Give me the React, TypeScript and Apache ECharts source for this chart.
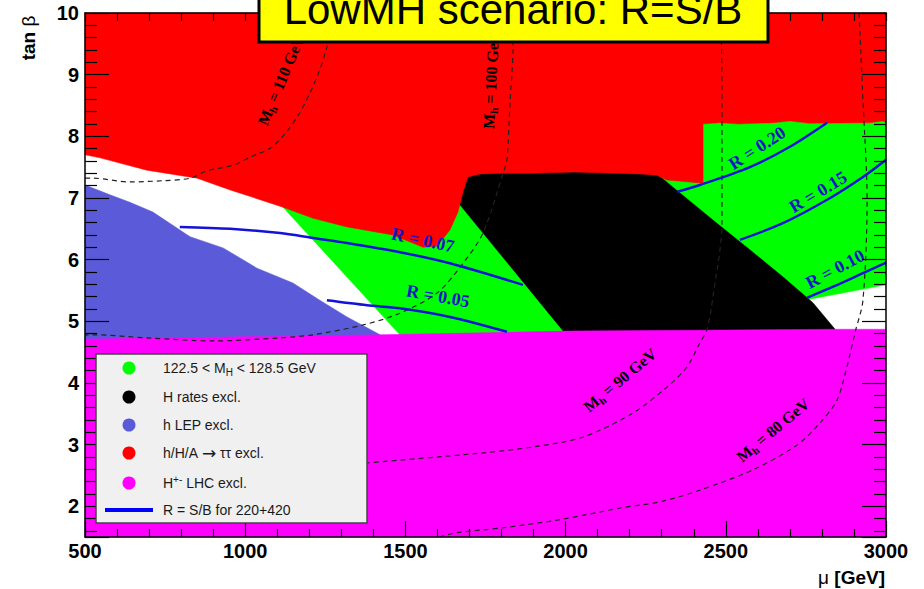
import React, { useEffect, useRef } from 'react';
import * as echarts from 'echarts';

// axis ranges
const xRange: [number, number] = [500, 3000];
const yRange: [number, number] = [1.5, 10];

// excluded / allowed regions (mu [GeV], tan beta)
const greenMid: [number, number][] = [[1118, 6.85], [1497, 4.70], [2120, 4.70], [2120, 7.36], [1118, 7.36]];
const greenRight: [number, number][] = [
  [2232, 7.36], [2429, 7.36], [2429, 8.20], [2480, 8.22], [2540, 8.20], [2650, 8.22], [2700, 8.25],
  [2760, 8.21], [2950, 8.22], [2990, 8.25], [3000, 8.23], [3000, 5.59], [2753, 5.35], [2607, 5.35],
];
const blackRegion: [number, number][] = [
  [1680, 7.45], [2285, 7.45], [2285, 7.39], [2357, 7.08], [2472, 6.59], [2575, 6.16], [2678, 5.72],
  [2772, 5.30], [2841, 4.87], [2845, 4.75], [2007, 4.75], [1670, 6.89],
];
const redRegion: [number, number][] = [
  [500, 10], [3000, 10], [3000, 8.23], [2990, 8.25], [2950, 8.22], [2760, 8.21], [2700, 8.25],
  [2650, 8.22], [2540, 8.20], [2480, 8.22], [2429, 8.20], [2429, 7.24], [2316, 7.29], [2285, 7.37],
  [2232, 7.39], [2029, 7.42], [1889, 7.40], [1805, 7.40], [1733, 7.39], [1695, 7.34], [1680, 7.10],
  [1664, 6.77], [1639, 6.48], [1599, 6.22], [1555, 6.20], [1461, 6.40], [1318, 6.53], [1212, 6.67],
  [1118, 6.85], [953, 7.13], [850, 7.32], [693, 7.45], [547, 7.65], [500, 7.70],
];
const blueRegion: [number, number][] = [
  [500, 7.21], [578, 7.05], [640, 6.93], [712, 6.77], [828, 6.37], [931, 6.19], [1037, 5.86],
  [1149, 5.62], [1233, 5.34], [1318, 5.07], [1421, 4.78], [1430, 4.65], [500, 4.65],
];
const magentaRegion: [number, number][] = [
  [500, 1.5], [3000, 1.5], [3000, 4.87], [2840, 4.87], [2000, 4.84], [1420, 4.78], [500, 4.71],
];

// M_h contours
const mh110: [number, number][] = [[500, 7.32], [525, 7.32], [640, 7.26], [743, 7.28], [828, 7.32], [881, 7.44], [962, 7.53], [1015, 7.66], [1087, 7.84], [1162, 8.31], [1224, 8.96], [1255, 9.45], [1277, 10]];
const mh100: [number, number][] = [[1836, 10], [1836, 9.45], [1827, 8.59], [1817, 7.62], [1805, 7.40], [1742, 6.43], [1680, 5.94], [1599, 5.46], [1483, 5.13], [1368, 4.94], [1212, 4.78], [1109, 4.73], [900, 4.68], [694, 4.73], [525, 4.78], [500, 4.78]];
const mh90: [number, number][] = [[2485, 10], [2488, 8.59], [2488, 6.6], [2460, 5.40], [2441, 4.86], [2419, 4.65], [2379, 4.26], [2316, 3.93], [2210, 3.51], [2054, 3.12], [1898, 2.96], [1733, 2.86], [1421, 2.72], [1380, 2.70]];
const mh80: [number, number][] = [[2916, 10], [2928, 8.59], [2941, 6.97], [2928, 5.34], [2903, 4.81], [2878, 4.26], [2847, 3.72], [2794, 3.35], [2722, 2.99], [2585, 2.59], [2419, 2.26], [2295, 2.07], [2170, 1.97], [1992, 1.79], [1805, 1.65], [1661, 1.57], [1608, 1.5]];

// R = S/B contours
const r07: [number, number][] = [[796, 6.53], [953, 6.50], [1109, 6.43], [1212, 6.35], [1318, 6.27], [1483, 6.12], [1639, 5.94], [1867, 5.59]];
const r05: [number, number][] = [[1255, 5.34], [1380, 5.26], [1483, 5.21], [1639, 5.07], [1817, 4.83]];
const r20: [number, number][] = [[2348, 7.10], [2419, 7.21], [2575, 7.50], [2700, 7.83], [2816, 8.22]];
const r15: [number, number][] = [[2544, 6.32], [2678, 6.59], [2816, 6.97], [2928, 7.34], [3000, 7.62]];
const r10: [number, number][] = [[2753, 5.38], [2835, 5.56], [2928, 5.78], [3000, 5.95]];

const legendLabels = [
  '122.5 < M{sub|H} < 128.5 GeV',
  'H rates excl.',
  'h LEP excl.',
  'h/H/A {ar|→} ττ excl.',
  'H{sup|+-} LHC excl.',
  'R = S/B for 220+420',
];
const legendColors = ['#00ff00', '#000000', '#5b5bd9', '#ff0000', '#ff00ff', '#0000ff'];

const GREEN = '#00ff00';
const BLACK = '#000000';
const RED = '#ff0000';
const BLUE = '#5b5bd9';
const MAGENTA = '#ff00ff';
const RLINE = '#1212d8';

function poly(pts: [number, number][], color: string) {
  return {
    type: 'custom',
    coordinateSystem: 'cartesian2d',
    silent: true,
    z: 2,
    data: [pts[0]],
    renderItem: (_p: any, api: any) => ({
      type: 'polygon',
      shape: { points: pts.map((p) => api.coord(p)) },
      style: { fill: color, stroke: color, lineWidth: 0.5 },
    }),
  };
}

function line(pts: [number, number][], color: string, width: number, dashed: boolean) {
  return {
    type: 'line',
    data: pts,
    showSymbol: false,
    symbol: 'none',
    smooth: 0.3,
    silent: true,
    z: 3,
    lineStyle: { color, width, type: dashed ? [5, 4] : 'solid' },
  };
}

const serifBold = { fontFamily: 'Liberation Serif', fontWeight: 'bold' };

function mLabel(x: number, y: number, deg: number, value: string) {
  return {
    type: 'text',
    x,
    y,
    rotation: (deg * Math.PI) / 180,
    z: 5,
    style: {
      text: `{m|M}{s|h}{m| = ${value} GeV}`,
      align: 'center',
      verticalAlign: 'middle',
      fill: '#000',
      rich: {
        m: { ...serifBold, fontSize: 16, fill: '#000', lineHeight: 20 },
        s: { ...serifBold, fontSize: 11, fill: '#000', verticalAlign: 'bottom', lineHeight: 12 },
      },
    },
  };
}

function rLabel(x: number, y: number, deg: number, value: string) {
  return {
    type: 'text',
    x,
    y,
    rotation: (deg * Math.PI) / 180,
    z: 5,
    style: {
      text: `R = ${value}`,
      align: 'center',
      verticalAlign: 'middle',
      fill: '#1414c8',
      fontSize: 18,
      ...serifBold,
    },
  };
}

function axisCommon(len: number, minorLen: number) {
  return {
    z: 10,
    axisLine: { show: true, onZero: false, lineStyle: { color: '#000', width: 1.5 } },
    axisTick: { show: true, inside: true, length: len, lineStyle: { color: '#000', width: 1.2 } },
    minorTick: { show: true, splitNumber: 5, length: minorLen, lineStyle: { color: '#000', width: 1.2 } },
    splitLine: { show: false },
  };
}

export default function App() {
  const ref = useRef<HTMLDivElement>(null);
  useEffect(() => {
    if (!ref.current) return;
    const chart = echarts.init(ref.current, undefined, { renderer: 'svg' });
    const legendRows = [368, 397, 425, 453, 483, 510];
    const legendEls: any[] = [
      {
        type: 'rect',
        shape: { x: 96, y: 354, width: 271, height: 169 },
        style: { fill: '#f0f0f0', stroke: '#444', lineWidth: 1.5 },
        z: 20,
      },
    ];
    legendLabels.forEach((lab, i) => {
      const y = legendRows[i];
      if (i === 5) {
        legendEls.push({
          type: 'line',
          shape: { x1: 105, y1: y, x2: 153, y2: y },
          style: { stroke: legendColors[i], lineWidth: 4 },
          z: 21,
        });
      } else {
        legendEls.push({
          type: 'circle',
          shape: { cx: 129, cy: y, r: 6.5 },
          style: { fill: legendColors[i] },
          z: 21,
        });
      }
      legendEls.push({
        type: 'text',
        x: 163,
        y,
        z: 21,
        style: {
          text: lab,
          fill: '#1a1a1a',
          fontSize: 14,
          fontFamily: 'Liberation Sans',
          verticalAlign: 'middle',
          align: 'left',
          rich: {
            sub: { fontSize: 10, fontFamily: 'Liberation Sans', fill: '#1a1a1a', verticalAlign: 'bottom', padding: [8, 0, 0, 0] },
            sup: { fontSize: 10, fontFamily: 'Liberation Sans', fill: '#1a1a1a', verticalAlign: 'top', padding: [0, 0, 8, 0] },
            ar: { fontSize: 17, fontFamily: 'DejaVu Sans', fill: '#1a1a1a' },
          },
        },
      });
    });

    const option: any = {
      animation: false,
      grid: { left: 85, right: 38, top: 13, bottom: 52 },
      xAxis: [
        {
          type: 'value', min: xRange[0], max: xRange[1], interval: 500, position: 'bottom',
          ...axisCommon(16, 8),
          axisLabel: {
            color: '#000', fontSize: 20, fontWeight: 'bold', fontFamily: 'Liberation Sans', margin: 4,
            formatter: (v: number) => String(Math.round(v)),
          },
        },
        {
          type: 'value', min: xRange[0], max: xRange[1], interval: 500, position: 'top',
          ...axisCommon(8, 8),
          axisLabel: { show: false },
        },
      ],
      yAxis: [
        {
          type: 'value', min: yRange[0], max: yRange[1], splitNumber: 9, position: 'left',
          ...axisCommon(24, 12),
          axisLabel: {
            color: '#000', fontSize: 20, fontWeight: 'bold', fontFamily: 'Liberation Sans', margin: 6,
            formatter: (v: number) => (Math.abs(v - Math.round(v)) < 1e-6 ? String(Math.round(v)) : ''),
          },
        },
        {
          type: 'value', min: yRange[0], max: yRange[1], splitNumber: 9, position: 'right',
          ...axisCommon(24, 12),
          axisLabel: { show: false },
        },
      ],
      series: [
        poly(greenMid, GREEN),
        poly(greenRight, GREEN),
        poly(blackRegion, BLACK),
        poly(redRegion, RED),
        poly(blueRegion, BLUE),
        poly(magentaRegion, MAGENTA),
        line(mh110, '#222', 1.2, true),
        line(mh100, '#222', 1.2, true),
        line(mh90, '#222', 1.2, true),
        line(mh80, '#222', 1.2, true),
        line(r07, RLINE, 2.5, false),
        line(r05, RLINE, 2.5, false),
        line(r20, RLINE, 2.5, false),
        line(r15, RLINE, 2.5, false),
        line(r10, RLINE, 2.5, false),
      ],
      graphic: [
        mLabel(281, 80, 67, '110'),
        mLabel(491, 80, 87, '100'),
        mLabel(620, 380, 40, '90'),
        mLabel(773, 430, 40, '80'),
        rLabel(423, 240, -12, '0.07'),
        rLabel(438, 296, -10, '0.05'),
        rLabel(757, 148, 33, '0.20'),
        rLabel(818, 192, 31, '0.15'),
        rLabel(835, 269, 28, '0.10'),
        ...legendEls,
        {
          type: 'rect',
          shape: { x: 259, y: -6, width: 509, height: 48 },
          style: { fill: '#ffff00', stroke: '#000', lineWidth: 3 },
          z: 30,
        },
        {
          type: 'text',
          x: 513,
          y: 9,
          z: 31,
          style: {
            text: 'LowMH scenario: R=S/B',
            fontSize: 42,
            fontFamily: 'Liberation Sans',
            fill: '#000',
            align: 'center',
            verticalAlign: 'middle',
          },
        },
        {
          type: 'text',
          x: 28,
          y: 38,
          rotation: Math.PI / 2,
          z: 5,
          style: {
            text: '{b|tan }{r|β}',
            align: 'center',
            verticalAlign: 'middle',
            rich: {
              b: { fontSize: 19, fontWeight: 'bold', fontFamily: 'Liberation Sans', fill: '#000' },
              r: { fontSize: 19, fontFamily: 'Liberation Sans', fill: '#000' },
            },
          },
        },
        {
          type: 'text',
          x: 885,
          y: 577,
          z: 5,
          style: {
            text: '{r|μ }{b|[GeV]}',
            align: 'right',
            verticalAlign: 'middle',
            rich: {
              b: { fontSize: 19, fontWeight: 'bold', fontFamily: 'Liberation Sans', fill: '#000' },
              r: { fontSize: 19, fontFamily: 'Liberation Sans', fill: '#000' },
            },
          },
        },
      ],
    };
    chart.setOption(option);
    return () => chart.dispose();
  }, []);
  return (
    <div
      ref={ref}
      style={{ position: 'absolute', left: 0, top: 0, width: 924, height: 589, background: '#fff' }}
    />
  );
}
